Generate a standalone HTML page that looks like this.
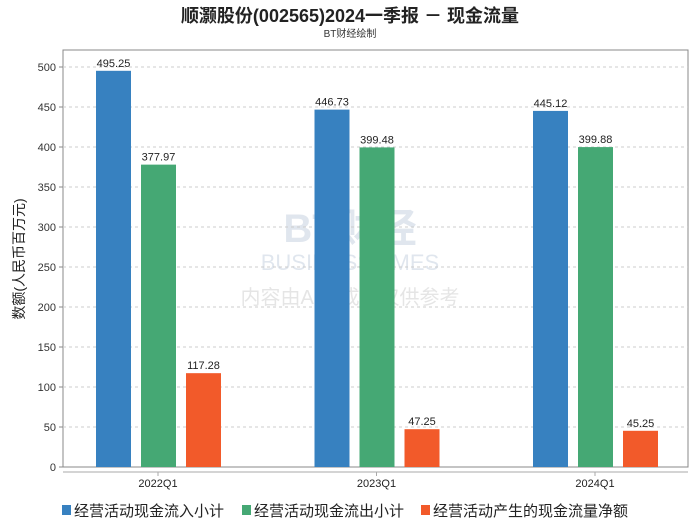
<!DOCTYPE html>
<html><head><meta charset="utf-8"><style>
body{margin:0;background:#fff;}
svg text{font-family:"Liberation Sans","Noto Sans CJK SC",sans-serif;}
</style></head><body>
<svg width="700" height="524" viewBox="0 0 700 524" id="c">
<rect x="0" y="0" width="700" height="524" fill="#fff"/>
<text x="350" y="22" text-anchor="middle" font-size="18" font-weight="bold" fill="#222">顺灏股份(002565)2024一季报 － 现金流量</text>
<text x="350" y="37" text-anchor="middle" font-size="10" fill="#333">BT财经绘制</text>
<g opacity="0.3">
<text x="350" y="242" text-anchor="middle" font-size="40" font-weight="bold" fill="#9ab0c8" font-family="Liberation Serif,serif">BT财经</text>
<text x="350" y="270" text-anchor="middle" font-size="22" fill="#9ab0c8" font-family="Liberation Serif,serif">BUSINESSTIMES</text>
<text x="350" y="304" text-anchor="middle" font-size="20" fill="#aaa">内容由AI生成，仅供参考</text>
</g>
<rect x="63" y="50" width="625" height="417" fill="none" stroke="#888" stroke-width="1"/>
<g id="grid"></g>
<g id="bars"></g>
<line x1="63" y1="472" x2="688" y2="472" stroke="#aaa"/>
<text transform="translate(24,259) rotate(-90)" text-anchor="middle" font-size="14" fill="#222">数额(人民币百万元)</text>
<g font-size="15" fill="#222">
<rect x="62" y="505" width="9" height="10" fill="#3781c0"/>
<text x="74" y="516">经营活动现金流入小计</text>
<rect x="242" y="505" width="9" height="10" fill="#45a874"/>
<text x="254" y="516">经营活动现金流出小计</text>
<rect x="421" y="505" width="9" height="10" fill="#f25a2a"/>
<text x="433" y="516">经营活动产生的现金流量净额</text>
</g>
</svg>
<script>
const categories=["2022Q1","2023Q1","2024Q1"];
const inflow=[495.25,446.73,445.12];
const outflow=[377.97,399.48,399.88];
const net=[117.28,47.25,45.25];
const yTicks=[0,50,100,150,200,250,300,350,400,450,500];
const NS="http://www.w3.org/2000/svg";
const y=v=>467-v*0.8;
const xc=i=>158+i*218.5;
function mk(t,a,p){const e=document.createElementNS(NS,t);for(const k in a)e.setAttribute(k,a[k]);p.appendChild(e);return e;}
const g=document.getElementById('grid');
yTicks.forEach(v=>{
 if(v>0){const l=mk('line',{x1:63,x2:688,y1:y(v),y2:y(v),stroke:'#ccc','stroke-dasharray':'3,3'},g);
 
 }
 const tk=mk('line',{x1:59,x2:63,y1:y(v),y2:y(v),stroke:'#888'},g);
 
 
 const t=mk('text',{x:56,y:y(v)+4,'text-anchor':'end','font-size':11,fill:'#333'},g);
 t.textContent=v;
 
 
});
const b=document.getElementById('bars');
const series=[[inflow,'#3781c0','inflow'],[outflow,'#45a874','outflow'],[net,'#f25a2a','net']];
categories.forEach((c,i)=>{
 series.forEach((s,j)=>{
  const v=s[0][i];const x=xc(i)+(j-1)*45-17;
  const r=mk('rect',{x:x,y:y(v),width:35,height:v*0.8,fill:s[1]},b);
  
  
  const t=mk('text',{x:x+17.5,y:y(v)-4,'text-anchor':'middle','font-size':11,fill:'#222'},b);
  t.textContent=v.toFixed(2);
  
  
 });
 const tk=mk('line',{x1:xc(i),x2:xc(i),y1:472,y2:476,stroke:'#aaa'},b);
 
 
 const t=mk('text',{x:xc(i),y:487,'text-anchor':'middle','font-size':11,fill:'#222'},b);
 t.textContent=c;
 
 
});
</script>
</body></html>
